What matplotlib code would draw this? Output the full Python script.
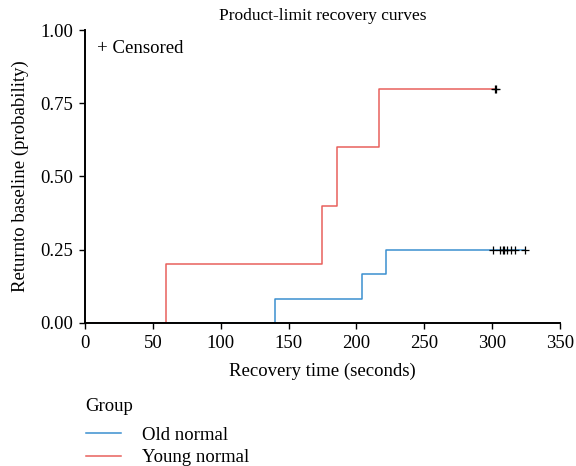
import matplotlib
matplotlib.use("Agg")
import matplotlib.pyplot as plt
from matplotlib.lines import Line2D

plt.rcParams["font.family"] = ["Liberation Serif", "DejaVu Serif"]

# step times and survival-type probabilities
old_times = [0, 140, 204, 222, 324]
old_probs = [0.0, 0.083, 0.167, 0.25, 0.25]
old_cens = [301, 306, 308, 309, 311, 314, 317, 324]

young_times = [0, 60, 175, 186, 217, 303]
young_probs = [0.0, 0.2, 0.4, 0.6, 0.8, 0.8]
young_cens = [302, 303]

OLD_COLOR = "#3b8fd0"
YOUNG_COLOR = "#e8605c"
FS = 13.5

fig = plt.figure(figsize=(5.76, 4.66), dpi=100)
ax = fig.add_axes([0.1476, 0.3069, 0.8244, 0.6287])

ax.step(old_times, old_probs, where="post", color=OLD_COLOR, lw=1.1)
ax.step(young_times, young_probs, where="post", color=YOUNG_COLOR, lw=1.1)
ax.plot(old_cens, [old_probs[-1]] * len(old_cens), "k+", ms=6, mew=0.9)
ax.plot(young_cens, [young_probs[-1]] * len(young_cens), "k+", ms=6, mew=0.9)

ax.set_xlim(0, 350)
ax.set_ylim(0, 1.0)
ax.set_xticks(range(0, 351, 50))
ax.set_yticks([0, 0.25, 0.5, 0.75, 1.0])
ax.set_yticklabels([f"{v:.2f}" for v in [0, 0.25, 0.5, 0.75, 1.0]])
ax.tick_params(labelsize=FS, length=4.5, width=1.0, pad=4)
ax.spines["top"].set_visible(False)
ax.spines["right"].set_visible(False)
ax.spines["left"].set_linewidth(1.4)
ax.spines["bottom"].set_linewidth(1.4)

ax.set_xlabel("Recovery time (seconds)", fontsize=FS, labelpad=8)
ax.set_ylabel("Returnto baseline (probability)", fontsize=FS, labelpad=8)
ax.set_title("Product-limit recovery curves", fontsize=12.5, pad=7)
ax.text(0.025, 0.965, "+ Censored", transform=ax.transAxes, fontsize=FS, va="top")

# legend below the plot: title as plain text, entries as a frameless legend
fig.text(0.1476, 0.127, "Group", fontsize=FS, va="center", ha="left")
handles = [Line2D([0], [0], color=OLD_COLOR, lw=1.1),
           Line2D([0], [0], color=YOUNG_COLOR, lw=1.1)]
leg = fig.legend(handles, ["Old normal", "Young normal"],
                 loc="upper left", bbox_to_anchor=(0.126, 0.113), frameon=False,
                 fontsize=FS, handlelength=1.9, handletextpad=1.1,
                 labelspacing=0.3, borderpad=0.2)

plt.savefig("out.png", dpi=100)
plt.close()
